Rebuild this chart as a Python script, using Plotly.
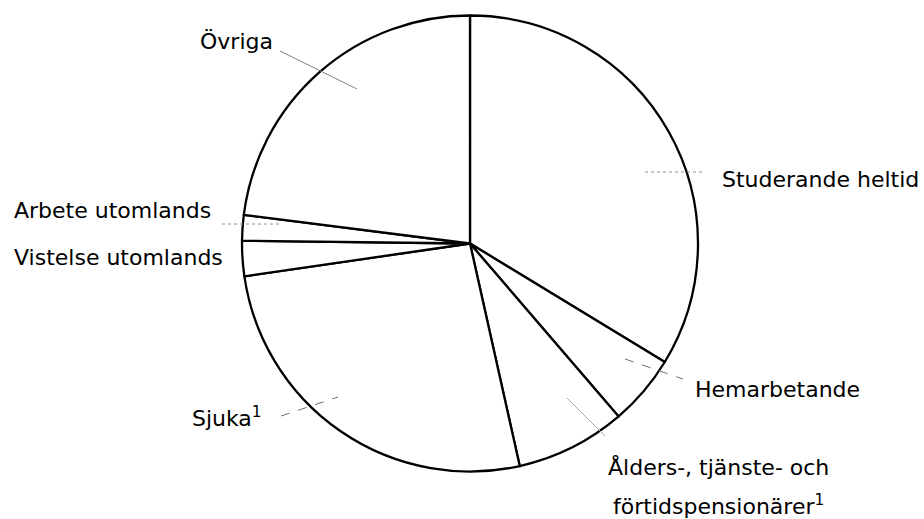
"""
Cirkeldiagram: personer utanför arbetskraften fördelade efter orsak
"""

import plotly.graph_objects as go

W, H = 924, 519

# Andelar (%), medurs från klockan 12
kategorier = [
    'Studerande heltid',
    'Hemarbetande',
    'Ålders-, tjänste- och förtidspensionärer',
    'Sjuka',
    'Vistelse utomlands',
    'Arbete utomlands',
    'Övriga',
]
andelar = [33.7, 5.0, 7.8, 26.2, 2.5, 1.8, 23.0]

# Etiketter: (text, x, y i pixlar, xanchor)
etiketter = [
    ('Övriga', 198, 41, 'left'),
    ('Studerande heltid', 720, 179, 'left'),
    ('Arbete utomlands', 12, 211, 'left'),
    ('Vistelse utomlands', 12, 257, 'left'),
    ('Hemarbetande', 693, 389, 'left'),
    ('Ålders-, tjänste- och', 718, 467, 'center'),
    ('förtidspensionärer<sup>1</sup>', 718, 505, 'center'),
    ('Sjuka<sup>1</sup>', 190, 417, 'left'),
]

# Hänvisningslinjer: (x0, y0, x1, y1, färg, streck)
linjer = [
    (280, 51, 357, 89, '#808080', 'solid'),
    (645, 172, 705, 172, '#909090', 'dot'),
    (625, 359, 683, 379, '#707070', 'dash'),
    (567, 398, 605, 436, '#aaaaaa', 'solid'),
    (281, 416, 338, 397, '#707070', 'dash'),
    (222, 224, 280, 224, '#909090', 'dot'),
]

# Cirkelns placering i pixlar
CX, CY, R = 470, 243.5, 228


def px(x):
    return x / W


def py(y):
    return 1 - y / H


fig = go.Figure()

fig.add_trace(go.Pie(
    labels=kategorier,
    values=andelar,
    sort=False,
    direction='clockwise',
    rotation=0,
    textinfo='none',
    hoverinfo='label+percent',
    showlegend=False,
    marker=dict(
        colors=['white'] * len(kategorier),
        line=dict(color='black', width=2.3)
    ),
    domain=dict(
        x=[px(CX - R), px(CX + R)],
        y=[py(CY + R), py(CY - R)]
    )
))

for x0, y0, x1, y1, farg, streck in linjer:
    fig.add_shape(
        type='line', xref='paper', yref='paper',
        x0=px(x0), y0=py(y0), x1=px(x1), y1=py(y1),
        line=dict(color=farg, width=1, dash=streck)
    )

for text, x, y, anchor in etiketter:
    fig.add_annotation(
        text=text, xref='paper', yref='paper',
        x=px(x), y=py(y), xanchor=anchor, yanchor='middle',
        showarrow=False,
        font=dict(family='DejaVu Sans', size=22, color='black')
    )

fig.update_layout(
    width=W,
    height=H,
    margin=dict(l=0, r=0, t=0, b=0),
    paper_bgcolor='white',
    plot_bgcolor='white'
)

# ta bort sidans standardmarginal så att diagrammet börjar i hörnet
fig.write_html(
    "out.html",
    config={'displayModeBar': False},
    post_script="document.body.style.margin='0';"
)
